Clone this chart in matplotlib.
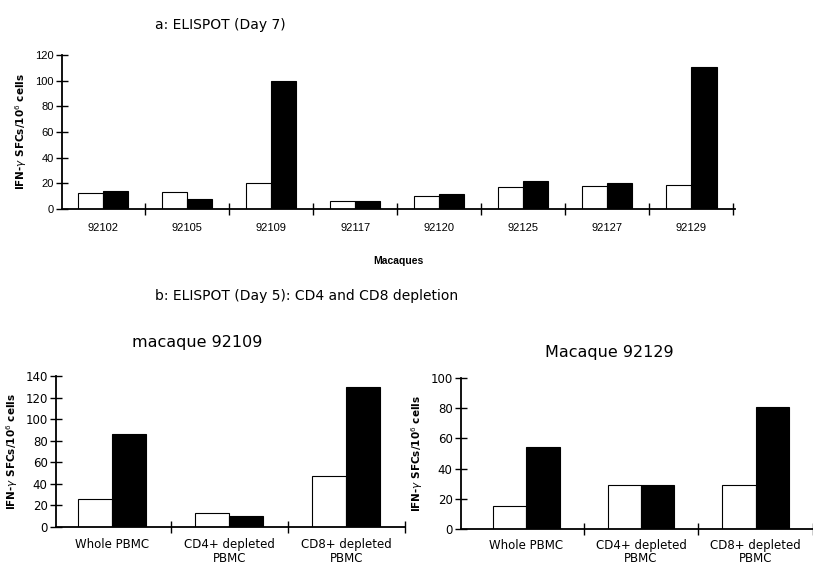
import numpy as np
import matplotlib
matplotlib.use('Agg')
import matplotlib.pyplot as plt

# panel a: ELISPOT day 7
macaques = ['92102', '92105', '92109', '92117', '92120', '92125', '92127', '92129']
day7_open = [12.5, 13, 20, 6, 10, 17, 18, 19]
day7_filled = [14, 8, 100, 6, 12, 22, 20, 111]

# panel b: CD4 / CD8 depletion, day 5
fractions = ['Whole PBMC', 'CD4+ depleted\nPBMC', 'CD8+ depleted\nPBMC']
m92109_open = [26, 13, 47]
m92109_filled = [86, 10, 130]
m92129_open = [15, 29, 29]
m92129_filled = [54, 29, 81]

ylab = 'IFN-$\\gamma$ SFCs/10$^6$ cells'


def bar_panel(ax, labels, open_vals, filled_vals, ymax, ystep, xlim, width,
              tickfont, tickfamily, xpad):
	x = np.arange(len(labels))
	ax.bar(x - width / 2, open_vals, width, color='white', edgecolor='black', linewidth=0.8)
	ax.bar(x + width / 2, filled_vals, width, color='black', edgecolor='black', linewidth=0.8)
	ax.set_xlim(*xlim)
	ax.set_ylim(0, ymax)
	ax.spines['top'].set_visible(False)
	ax.spines['right'].set_visible(False)
	ax.spines['left'].set_linewidth(1.3)
	ax.spines['bottom'].set_linewidth(1.3)
	ax.set_yticks(np.arange(0, ymax + 1, ystep))
	ax.set_xticks(x)
	ax.set_xticklabels(labels, fontsize=tickfont, family=tickfamily, linespacing=1.05)
	for t in ax.get_yticklabels():
		t.set_fontsize(tickfont)
		t.set_family(tickfamily)
	ax.set_xticks(np.arange(len(labels)) + 0.5, minor=True)
	ax.tick_params(axis='x', which='major', length=0, pad=xpad)
	ax.tick_params(axis='x', which='minor', direction='inout', length=8, width=1.0)
	ax.tick_params(axis='y', direction='inout', length=8, width=1.0, pad=2)
	ax.set_ylabel(ylab, fontsize=7.5, fontweight='bold', labelpad=4)


fig = plt.figure(figsize=(8.13, 5.67), dpi=100)

ax_a = fig.add_axes([62 / 813, 1 - 209 / 567, (735 - 62) / 813, 154 / 567])
bar_panel(ax_a, macaques, day7_open, day7_filled, 120, 20, (-0.49, 7.52), 0.3,
          8, 'Liberation Sans', 10)
ax_a.set_xlabel('Macaques', fontsize=7.5, fontweight='bold', family='Liberation Sans', labelpad=17)

ax_b1 = fig.add_axes([56 / 813, 1 - 527 / 567, (405 - 56) / 813, 151 / 567])
bar_panel(ax_b1, fractions, m92109_open, m92109_filled, 140, 20, (-0.48, 2.48), 0.29,
          8.5, 'DejaVu Sans', 8)

ax_b2 = fig.add_axes([461 / 813, 1 - 529 / 567, (813 - 461) / 813, 151 / 567])
bar_panel(ax_b2, fractions, m92129_open, m92129_filled, 100, 20, (-0.57, 2.47), 0.29,
          8.5, 'DejaVu Sans', 7)

fig.text(155 / 813, 1 - 25 / 567, 'a: ELISPOT (Day 7)', fontsize=10, va='center', ha='left')
fig.text(155 / 813, 1 - 296 / 567, 'b: ELISPOT (Day 5): CD4 and CD8 depletion',
         fontsize=10, va='center', ha='left')
fig.text(132 / 813, 1 - 343 / 567, 'macaque 92109', fontsize=11.5, va='center', ha='left')
fig.text(545 / 813, 1 - 352 / 567, 'Macaque 92129', fontsize=11.5, va='center', ha='left')

fig.savefig('out.png', dpi=100)
